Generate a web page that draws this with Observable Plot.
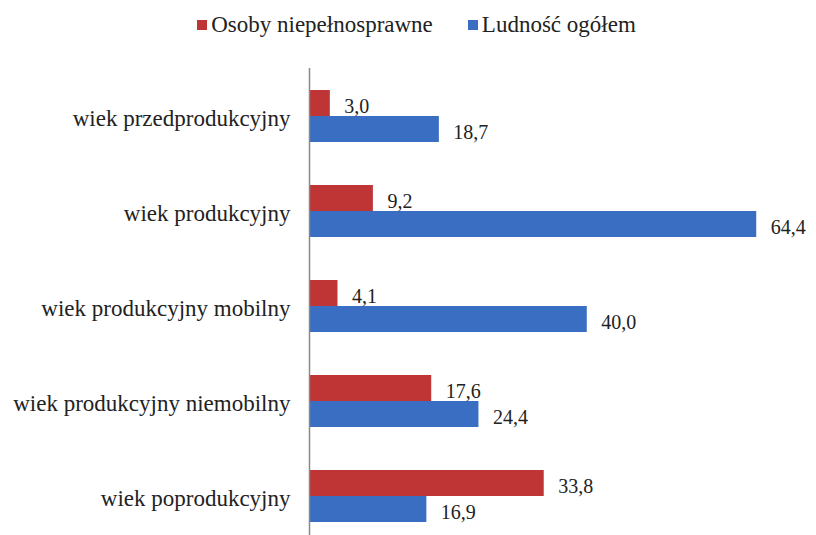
<!DOCTYPE html>
<html><head><meta charset="utf-8">
<script src="https://cdn.jsdelivr.net/npm/d3@7"></script>
<script src="https://cdn.jsdelivr.net/npm/@observablehq/plot@0.6"></script>
<style>
body{margin:0;background:#fff;font-family:"Liberation Serif","DejaVu Serif",serif;}
#legend{height:50px;display:flex;justify-content:center;align-items:center;gap:35px;font-size:23px;color:#222;padding-left:17px;box-sizing:border-box;}
#legend span.sw{display:inline-block;width:10px;height:10px;margin-right:4px;vertical-align:middle;position:relative;top:-2px;}
</style></head>
<body>
<div id="legend"></div>
<div id="chart"></div>
<script>
const categories = ["wiek przedprodukcyjny","wiek produkcyjny","wiek produkcyjny mobilny","wiek produkcyjny niemobilny","wiek poprodukcyjny"];
const series = ["Osoby niepełnosprawne","Ludność ogółem"];
const disabled = [3.0, 9.2, 4.1, 17.6, 33.8];
const total = [18.7, 64.4, 40.0, 24.4, 16.9];
const colors = ["#bf3535", "#3a6ec2"];

const data = [];
categories.forEach((c,i)=>{
  data.push({cat:c, s:series[0], v:disabled[i]});
  data.push({cat:c, s:series[1], v:total[i]});
});
const fmt = d3.formatLocale({decimal:",", thousands:" ", grouping:[3], currency:["",""]}).format(".1f");

const leg = document.getElementById("legend");
series.forEach((s,i)=>{
  const d = document.createElement("div");
  d.innerHTML = `<span class="sw" style="background:${colors[i]}"></span>${s}`;
  leg.appendChild(d);
});

const chart = Plot.plot({
  width: 816,
  height: 485,
  marginTop: 18,
  marginBottom: -8,
  marginLeft: 309,
  marginRight: 7,
  style: {fontFamily: "Liberation Serif, DejaVu Serif, serif", fontSize: "20px", color: "#222", background: "#fff"},
  x: {domain: [0, 72], axis: null},
  fy: {domain: categories, padding: 0, label: null},
  y: {domain: series, axis: null, paddingInner: 0, paddingOuter: 0.79},
  color: {domain: series, range: colors},
  facet: {data, y: "cat"},
  marks: [
    Plot.axisFy({anchor: "left", tickSize: 0, tickPadding: 19, label: null, fontSize: 23, dy: 3}),
    Plot.barX(data, {x: "v", y: "s", fill: "s"}),
    Plot.text(data, {x: "v", y: "s", text: d => fmt(d.v), textAnchor: "start", dx: 14, dy: 3, fontSize: 20, fill: "#222"}),
    Plot.ruleX([0], {stroke: "#888", strokeWidth: 1.5})
  ]
});
document.getElementById("chart").appendChild(chart);
</script>
</body></html>
